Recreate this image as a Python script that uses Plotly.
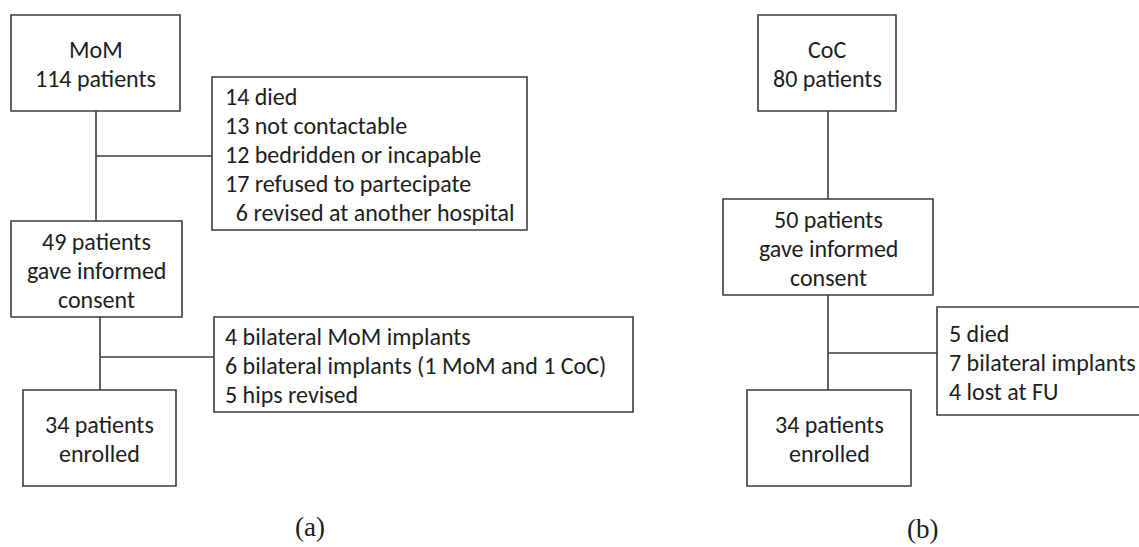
import plotly.graph_objects as go

# ---------------- data (text content) ----------------
panel_labels = ["(a)", "(b)"]

mom_start = ["MoM", "114 patients"]
mom_excluded_1 = ["14 died", "13 not contactable", "12 bedridden or incapable",
                  "17 refused to partecipate", "\u00a0\u00a06 revised at another hospital"]
mom_consent = ["49 patients", "gave informed", "consent"]
mom_excluded_2 = ["4 bilateral MoM implants", "6 bilateral implants (1 MoM and 1 CoC)",
                  "5 hips revised"]
mom_enrolled = ["34 patients", "enrolled"]

coc_start = ["CoC", "80 patients"]
coc_consent = ["50 patients", "gave informed", "consent"]
coc_excluded = ["5 died", "7 bilateral implants", "4 lost at FU"]
coc_enrolled = ["34 patients", "enrolled"]

# ---------------- layout geometry (pixel space of the page) ----------------
W, H = 1139, 547
FONT = "Carlito, Calibri, Lato, sans-serif"
FS = 24
LINE_GAP = 29
TXT = "#1e1e1e"
LINE = "#3c3c3c"

# boxes: (x0, y0, x1, y1, lines, align)
boxes = [
    (11, 15, 180, 111, mom_start, "center"),
    (212, 77, 527, 230, mom_excluded_1, "left"),
    (11, 221, 182, 317, mom_consent, "center"),
    (214, 317, 633, 412, mom_excluded_2, "left"),
    (23, 390, 176, 486, mom_enrolled, "center"),
    (758, 15, 896, 111, coc_start, "center"),
    (723, 199, 933, 295, coc_consent, "center"),
    (937, 307, 1160, 415, coc_excluded, "left"),
    (747, 390, 911, 486, coc_enrolled, "center"),
]

# connector lines: (x0, y0, x1, y1)
connectors = [
    (96, 111, 96, 221),
    (96, 156, 212, 156),
    (100, 317, 100, 390),
    (100, 357, 214, 357),
    (828, 111, 828, 199),
    (828, 295, 828, 390),
    (828, 353, 937, 353),
]

text_left_pad = {1: 11, 3: 9, 7: 10}

fig = go.Figure()
fig.add_trace(go.Scatter(x=[0, W], y=[0, H], mode="markers",
                         marker=dict(opacity=0), hoverinfo="skip", showlegend=False))

shapes = []
annotations = []
for i, (x0, y0, x1, y1, lines, align) in enumerate(boxes):
    shapes.append(dict(type="rect", xref="x", yref="y", x0=x0, y0=y0, x1=x1, y1=y1,
                       line=dict(color=LINE, width=1.6), fillcolor="rgba(0,0,0,0)",
                       layer="above"))
    cy = (y0 + y1) / 2 + 1
    n = len(lines)
    for k, ln in enumerate(lines):
        ly = cy + (k - (n - 1) / 2) * LINE_GAP
        if align == "center":
            annotations.append(dict(x=(x0 + x1) / 2, y=ly, xref="x", yref="y",
                                    text=ln, showarrow=False,
                                    xanchor="center", yanchor="middle",
                                    font=dict(family=FONT, size=FS, color=TXT)))
        else:
            annotations.append(dict(x=x0 + text_left_pad[i], y=ly, xref="x", yref="y",
                                    text=ln, showarrow=False,
                                    xanchor="left", yanchor="middle",
                                    font=dict(family=FONT, size=FS, color=TXT)))

for (x0, y0, x1, y1) in connectors:
    shapes.append(dict(type="line", xref="x", yref="y", x0=x0, y0=y0, x1=x1, y1=y1,
                       line=dict(color=LINE, width=1.6)))

label_pos = [(310, 527), (922, 529)]
for lab, (lx, ly) in zip(panel_labels, label_pos):
    annotations.append(dict(x=lx, y=ly, xref="x", yref="y", text=lab, showarrow=False,
                            xanchor="center", yanchor="middle",
                            font=dict(family="Liberation Serif, serif", size=27, color=TXT)))

fig.update_layout(
    width=W, height=H,
    margin=dict(l=0, r=0, t=0, b=0),
    paper_bgcolor="white", plot_bgcolor="white",
    xaxis=dict(range=[0, W], visible=False, fixedrange=True),
    yaxis=dict(range=[H, 0], visible=False, fixedrange=True),
    shapes=shapes, annotations=annotations,
    showlegend=False,
)

fig.write_html(
    "out.html",
    config={"displayModeBar": False},
    post_script="document.body.style.margin='0';document.body.style.overflow='hidden';",
)
